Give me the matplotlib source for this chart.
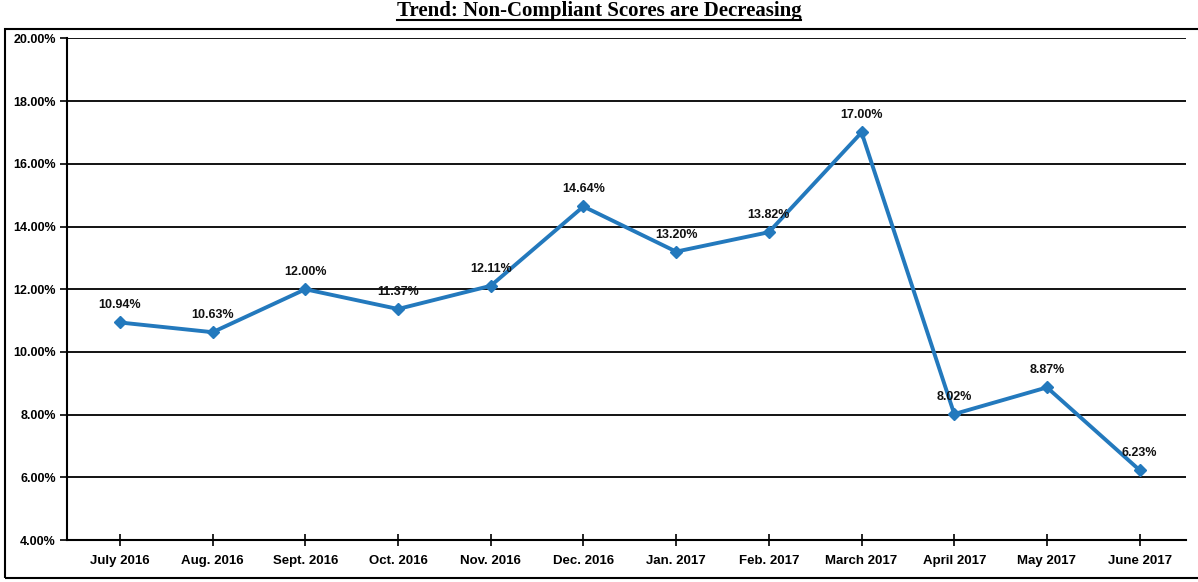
import matplotlib.pyplot as plt
from matplotlib.patches import Rectangle
from matplotlib.lines import Line2D

# Data
months = ['July 2016', 'Aug. 2016', 'Sept. 2016', 'Oct. 2016', 'Nov. 2016', 'Dec. 2016',
          'Jan. 2017', 'Feb. 2017', 'March 2017', 'April 2017', 'May 2017', 'June 2017']
scores = [10.94, 10.63, 12.00, 11.37, 12.11, 14.64, 13.20, 13.82, 17.00, 8.02, 8.87, 6.23]
y_ticks = [4, 6, 8, 10, 12, 14, 16, 18, 20]

font = 'Liberation Sans'

fig = plt.figure(figsize=(11.98, 5.82), dpi=100)
ax = fig.add_axes([0.056, 0.072, 0.934, 0.862])

x = list(range(len(months)))
ax.plot(x, scores, color='#2379BD', lw=2.8, marker='D', ms=6, mfc='#2379BD', mec='#2379BD', zorder=3)

for i, v in enumerate(scores):
    ax.annotate(f'{v:.2f}%', (i, v), xytext=(0, 8), textcoords='offset points',
                ha='center', va='bottom', fontsize=9, fontweight='bold',
                family=font, color='#111111')

ax.set_xlim(-0.57, 11.5)
ax.set_ylim(4, 20)
ax.set_yticks(y_ticks)
ax.set_yticklabels([f'{t:.2f}%' for t in y_ticks], fontsize=9, fontweight='bold', family=font)
ax.set_xticks(x)
ax.set_xticklabels(months, fontsize=9.5, fontweight='bold', family=font)
ax.tick_params(axis='x', direction='inout', length=8, width=1.2, pad=7)
ax.tick_params(axis='y', direction='out', length=5, width=1.2, pad=3)

ax.grid(axis='y', color='black', lw=1.3)
ax.set_axisbelow(True)
for s in ['top', 'right']:
    ax.spines[s].set_visible(False)
for s in ['left', 'bottom']:
    ax.spines[s].set_linewidth(1.5)
    ax.spines[s].set_color('black')

# outer border of the scanned chart
fig.patches.append(Rectangle((5 / 1198, 4 / 582), 1.2, 549 / 582, transform=fig.transFigure,
                             fill=False, lw=1.5, ec='black'))

# underlined title above the border
title = fig.text(0.5, 1 - 1 / 582, 'Trend: Non-Compliant Scores are Decreasing', ha='center',
                 va='top', fontsize=15, fontweight='bold', family='Liberation Serif')
fig.canvas.draw()
bb = title.get_window_extent().transformed(fig.transFigure.inverted())
fig.lines.append(Line2D([bb.x0, bb.x1], [bb.y0 + 1 / 582] * 2, transform=fig.transFigure,
                        color='black', lw=1.5))

fig.savefig('out.png', dpi=100)
